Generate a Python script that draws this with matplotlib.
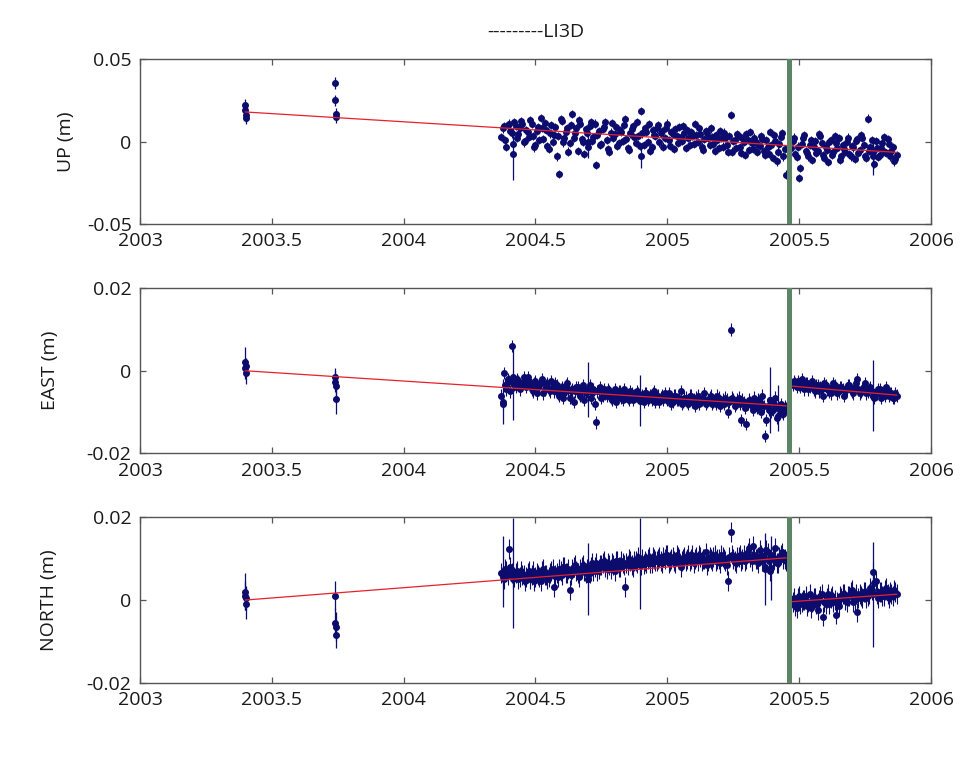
import numpy as np
import matplotlib
matplotlib.use('Agg')
from matplotlib import pyplot as plt

plt.rcParams['font.family'] = ['Open Sans', 'DejaVu Sans']

# epochs of the continuous data (decimal years)
t_pre = [2004.37, 2004.38, 2004.39, 2004.40, 2004.41, 2004.42, 2004.43, 2004.44, 2004.45, 2004.46,
         2004.47, 2004.48, 2004.49, 2004.50, 2004.51, 2004.52, 2004.53, 2004.54, 2004.55, 2004.56,
         2004.57, 2004.58, 2004.59, 2004.60, 2004.61, 2004.62, 2004.63, 2004.64, 2004.65, 2004.66,
         2004.67, 2004.68, 2004.69, 2004.70, 2004.71, 2004.72, 2004.73, 2004.74, 2004.75, 2004.76,
         2004.77, 2004.78, 2004.79, 2004.80, 2004.81, 2004.82, 2004.83, 2004.84, 2004.85, 2004.86,
         2004.87, 2004.88, 2004.89, 2004.90, 2004.91, 2004.92, 2004.93, 2004.94, 2004.95, 2004.96,
         2004.97, 2004.98, 2004.99, 2005.00, 2005.01, 2005.02, 2005.03, 2005.04, 2005.05, 2005.06,
         2005.07, 2005.08, 2005.09, 2005.10, 2005.11, 2005.12, 2005.13, 2005.14, 2005.15, 2005.16,
         2005.17, 2005.18, 2005.19, 2005.20, 2005.21, 2005.22, 2005.23, 2005.24, 2005.25, 2005.26,
         2005.27, 2005.28, 2005.29, 2005.30, 2005.31, 2005.32, 2005.33, 2005.34, 2005.35, 2005.36,
         2005.37, 2005.38, 2005.39, 2005.40, 2005.41, 2005.42, 2005.43, 2005.44, 2005.45]
t_post = [2005.47, 2005.48, 2005.49, 2005.50, 2005.51, 2005.52, 2005.53, 2005.54, 2005.55, 2005.56,
          2005.57, 2005.58, 2005.59, 2005.60, 2005.61, 2005.62, 2005.63, 2005.64, 2005.65, 2005.66,
          2005.67, 2005.68, 2005.69, 2005.70, 2005.71, 2005.72, 2005.73, 2005.74, 2005.75, 2005.76,
          2005.77, 2005.78, 2005.79, 2005.80, 2005.81, 2005.82, 2005.83, 2005.84, 2005.85, 2005.86,
          2005.87]
# in-between epochs
t_pre_b = [2004.375, 2004.385, 2004.395, 2004.405, 2004.415, 2004.425, 2004.435, 2004.445, 2004.455, 2004.465,
           2004.475, 2004.485, 2004.495, 2004.505, 2004.515, 2004.525, 2004.535, 2004.545, 2004.555, 2004.565,
           2004.575, 2004.585, 2004.595, 2004.605, 2004.615, 2004.625, 2004.635, 2004.645, 2004.655, 2004.665,
           2004.675, 2004.685, 2004.695, 2004.705, 2004.715, 2004.725, 2004.735, 2004.745, 2004.755, 2004.765,
           2004.775, 2004.785, 2004.795, 2004.805, 2004.815, 2004.825, 2004.835, 2004.845, 2004.855, 2004.865,
           2004.875, 2004.885, 2004.895, 2004.905, 2004.915, 2004.925, 2004.935, 2004.945, 2004.955, 2004.965,
           2004.975, 2004.985, 2004.995, 2005.005, 2005.015, 2005.025, 2005.035, 2005.045, 2005.055, 2005.065,
           2005.075, 2005.085, 2005.095, 2005.105, 2005.115, 2005.125, 2005.135, 2005.145, 2005.155, 2005.165,
           2005.175, 2005.185, 2005.195, 2005.205, 2005.215, 2005.225, 2005.235, 2005.245, 2005.255, 2005.265,
           2005.275, 2005.285, 2005.295, 2005.305, 2005.315, 2005.325, 2005.335, 2005.345, 2005.355, 2005.365,
           2005.375, 2005.385, 2005.395, 2005.405, 2005.415, 2005.425, 2005.435, 2005.445]
t_post_b = [2005.475, 2005.485, 2005.495, 2005.505, 2005.515, 2005.525, 2005.535, 2005.545, 2005.555, 2005.565,
            2005.575, 2005.585, 2005.595, 2005.605, 2005.615, 2005.625, 2005.635, 2005.645, 2005.655, 2005.665,
            2005.675, 2005.685, 2005.695, 2005.705, 2005.715, 2005.725, 2005.735, 2005.745, 2005.755, 2005.765,
            2005.775, 2005.785, 2005.795, 2005.805, 2005.815, 2005.825, 2005.835, 2005.845, 2005.855, 2005.865]

# early campaign epochs
t_early = [2003.398, 2003.400, 2003.402, 2003.404, 2003.738, 2003.740, 2003.742, 2003.744]

# values in mm
up_pre = [3.0, 9.5, -3.0, 11.0, 5.0, 12.0, 2.0, 8.5, 10.5, 0.5,
          6.0, 13.0, 3.5, -2.0, 9.0, 14.5, 1.5, 7.0, -4.5, 10.0,
          4.0, -9.0, -19.5, 12.5, 2.5, 8.0, -1.0, 17.0, 5.5, -5.5,
          10.5, 0.0, 7.5, -3.5, 12.0, 3.0, -14.0, 6.5, -1.5, 9.0,
          1.0, -6.0, 11.5, 4.5, -2.5, 7.0, 0.5, 13.5, -4.0, 5.0,
          9.5, -1.0, 3.5, 18.5, -2.0, 6.0, 10.5, -3.5, 4.0, 8.0,
          -0.5, 6.5, 2.0, 11.0, -2.5, 4.5, 7.5, -1.0, 3.0, 9.5,
          -4.0, 2.5, 6.0, -1.5, 4.0, 8.5, -3.0, 1.5, 5.5, -2.0,
          3.0, -5.5, 1.0, 6.5, -3.0, 2.0, -6.5, 16.0, 0.5, -4.0,
          3.5, -7.0, 0.0, 4.5, -5.0, -1.0, 2.5, -6.5, -2.5, 1.5,
          -8.0, -3.5, 6.0, -10.0, 0.5, -6.0, 3.0, -9.0, -20.0]
up_post = [-4.0, 2.5, -9.5, -22.0, -1.5, 4.0, -7.0, -2.0, -11.0, 0.5,
           -5.5, 3.5, -8.0, -3.0, -12.5, 1.0, -6.5, -1.0, 2.0, -9.0,
           -4.5, 0.0, -7.5, -2.5, -10.5, 1.5, -5.0, 2.5, -8.5, 14.0,
           -3.5, -6.0, 0.5, -9.5, -4.0, 3.0, -7.0, -1.5, -5.5, -12.0,
           -8.0]
up_pre_b = [8.0, 1.0, 10.0, 6.5, -1.5, 9.5, 4.5, 12.5, -0.5, 7.0,
            3.0, 10.5, -3.5, 6.5, 1.0, 8.5, 11.5, -2.5, 5.0, 0.0,
            9.0, 3.5, 13.5, -0.5, 6.0, -6.0, 10.0, 2.0, 8.5, 13.0,
            1.5, -7.5, 5.5, 9.5, 0.5, 11.0, 4.0, -2.0, 7.5, 12.0,
            -4.5, 5.5, 2.5, 9.0, -1.0, 6.0, 10.0, 1.5, -5.0, 7.5,
            3.0, 12.0, -2.5, 5.0, 8.5, 0.0, -5.5, 7.0, 3.5, 10.0,
            5.0, -3.0, 8.5, 1.0, 6.0, -4.5, 3.5, 9.0, 0.5, 5.5,
            7.0, -2.0, 3.5, 10.5, 0.0, 4.5, -5.0, 6.5, 2.0, 8.0,
            -1.5, 4.0, -4.0, 2.5, 5.5, -2.0, 3.5, -6.0, 1.0, 4.5,
            -3.5, 2.0, -8.0, 1.0, 6.0, -4.5, 0.0, -2.0, 3.5, -5.5,
            1.0, -7.5, -2.0, 4.0, -12.0, -1.5, 5.0, -4.5]
up_post_b = [0.5, -7.5, -3.0, -16.0, 2.0, -5.5, -9.0, 1.0, -3.5, -7.0,
             4.5, -1.0, -10.0, -5.0, 0.0, -8.0, 3.5, -4.0, -11.0, -2.0,
             -6.0, 2.5, -9.0, -3.5, 0.5, -7.0, 4.0, -2.0, -10.0, -5.5,
             1.0, -13.5, -4.0, -8.0, -1.0, -6.5, 1.5, -9.0, -3.5, -10.5]
up_early = [22.0, 19.0, 16.0, 14.5, 35.5, 25.0, 17.0, 15.0]

east_pre = [-6.0, -0.5, -4.5, -2.5, 6.0, -3.5, -2.0, -4.5, -3.0, -2.5,
            -1.5, -3.5, -5.0, -2.5, -4.0, -3.0, -5.5, -3.5, -4.5, -2.5,
            -5.0, -3.5, -6.0, -4.0, -5.5, -3.0, -6.5, -4.5, -5.0, -4.0,
            -6.0, -3.5, -5.5, -4.5, -6.5, -4.5, -12.5, -5.0, -6.5, -4.5,
            -6.0, -5.0, -7.0, -4.5, -6.0, -5.0, -7.0, -5.5, -6.5, -5.0,
            -7.0, -6.0, -5.5, -6.5, -7.5, -5.5, -6.5, -7.0, -5.0, -6.5,
            -7.5, -6.0, -5.5, -7.0, -6.5, -7.5, -6.0, -7.0, -5.0, -7.5,
            -6.5, -8.0, -6.0, -7.0, -6.5, -8.0, -7.0, -5.5, -7.5, -6.5,
            -8.0, -7.0, -6.0, -8.5, -7.0, -6.5, -9.9, 10.0, -7.0, -8.0,
            -6.5, -11.9, -7.5, -12.9, -7.0, -8.5, -6.5, -9.0, -7.5, -6.0,
            -15.8, -8.5, -7.0, -9.5, -6.5, -11.0, -8.0, -10.5, -9.0]
east_post = [-3.0, -2.5, -4.0, -3.5, -2.0, -4.5, -3.0, -4.0, -2.5, -5.0,
             -3.5, -4.0, -6.0, -3.5, -4.5, -5.5, -3.0, -4.5, -5.0, -4.0,
             -6.0, -4.5, -3.5, -5.0, -4.0, -2.0, -5.5, -4.5, -3.0, -5.0,
             -4.0, -6.0, -5.5, -4.5, -6.5, -5.0, -4.0, -6.0, -5.5, -6.5,
             -6.0]
east_pre_b = [-8.0, -3.5, -2.0, -5.0, -1.5, -4.0, -2.5, -3.5, -1.5, -4.0,
              -2.5, -4.5, -3.0, -5.5, -3.5, -2.0, -4.5, -3.0, -5.0, -4.0,
              -3.0, -5.5, -4.5, -6.5, -3.5, -4.5, -5.0, -7.5, -4.0, -5.5,
              -4.5, -7.0, -5.0, -3.5, -5.5, -8.0, -5.0, -4.0, -6.0, -5.5,
              -4.5, -6.5, -5.5, -7.5, -5.0, -6.5, -4.5, -6.0, -7.0, -5.5,
              -6.0, -5.0, -7.0, -6.0, -5.5, -7.0, -6.0, -5.5, -7.5, -6.0,
              -6.5, -7.0, -6.5, -5.5, -8.0, -6.0, -7.0, -6.5, -8.0, -6.5,
              -7.5, -6.0, -7.5, -8.5, -6.0, -7.0, -6.5, -8.0, -7.0, -6.0,
              -7.5, -8.0, -6.5, -7.5, -8.0, -7.0, -7.5, -6.5, -8.5, -7.0,
              -8.0, -7.0, -9.0, -8.0, -7.5, -9.5, -8.0, -7.0, -10.0, -8.5,
              -12.0, -9.5, -10.0, -8.0, -11.5, -9.0, -10.0, -8.5]
east_post_b = [-3.5, -3.0, -2.5, -4.0, -3.5, -3.0, -4.5, -3.5, -4.5, -3.5,
               -5.0, -4.5, -3.0, -4.5, -5.0, -4.0, -3.5, -5.5, -4.0, -4.5,
               -5.0, -3.5, -4.5, -5.5, -3.0, -4.5, -5.0, -4.0, -5.5, -4.5,
               -5.0, -6.5, -5.5, -4.5, -5.5, -6.0, -5.0, -5.5, -6.5, -5.5]
east_early = [2.2, 0.6, -0.6, 1.2, -1.4, -2.6, -3.7, -6.9]

north_pre = [6.5, 5.0, 7.0, 12.4, 6.5, 5.5, 7.0, 5.5, 6.0, 4.5,
             6.5, 5.0, 7.0, 5.5, 6.0, 4.5, 7.5, 6.0, 5.5, 7.0,
             3.1, 6.5, 7.5, 6.0, 8.0, 6.5, 2.4, 7.5, 8.5, 6.5,
             7.5, 8.5, 6.5, 5.0, 8.0, 7.0, 9.0, 7.5, 8.5, 9.5,
             7.5, 8.5, 9.0, 7.0, 9.5, 8.0, 9.0, 3.2, 8.5, 9.5,
             8.0, 9.5, 10.5, 8.5, 8.8, 9.0, 10.5, 9.0, 10.0, 9.5,
             10.5, 9.0, 10.0, 11.0, 9.5, 10.5, 9.0, 10.5, 8.0, 10.0,
             9.5, 11.0, 10.0, 9.0, 10.5, 11.0, 9.5, 10.0, 8.5, 10.5,
             9.5, 11.0, 10.0, 9.0, 10.5, 9.5, 4.7, 16.5, 10.0, 9.0,
             10.5, 9.5, 11.0, 10.0, 12.5, 9.5, 11.0, 10.0, 12.0, 9.5,
             8.0, 11.5, 7.0, 10.5, 12.5, 9.0, 11.0, 10.0, 9.5]
north_post = [-1.0, 0.5, -2.0, 1.0, -0.5, 0.0, -1.5, 1.5, -0.5, 0.5,
              -2.5, 1.0, -4.0, -1.0, 1.5, 0.5, -0.5, -3.5, -1.5, 0.5,
              1.5, -0.5, 1.0, 2.5, 0.0, -3.0, 1.5, 0.5, 2.0, 1.0,
              3.0, 6.9, 4.5, 0.5, 2.0, 1.0, 3.0, 0.5, 1.5, 2.5,
              1.5]
north_pre_b = [5.5, 7.5, 6.0, 8.0, 5.0, 6.5, 5.0, 7.0, 6.0, 5.5,
               7.0, 6.0, 4.5, 6.5, 5.5, 7.0, 6.0, 5.0, 6.5, 7.5,
               6.0, 5.5, 7.0, 8.0, 6.5, 7.5, 6.0, 8.0, 7.0, 5.5,
               8.0, 7.0, 7.5, 6.5, 9.0, 8.0, 7.0, 8.5, 9.0, 8.0,
               9.0, 7.5, 8.5, 9.5, 8.0, 9.5, 8.5, 9.0, 10.0, 8.5,
               9.5, 9.0, 8.5, 10.0, 9.5, 10.0, 9.0, 10.5, 9.5, 10.0,
               9.5, 10.5, 11.0, 9.0, 10.0, 9.5, 11.0, 10.0, 9.5, 10.5,
               10.0, 9.5, 11.0, 10.0, 9.5, 10.5, 10.0, 11.5, 9.5, 10.0,
               10.5, 9.5, 10.0, 11.0, 10.0, 8.5, 10.5, 11.0, 9.5, 10.5,
               11.0, 10.0, 9.5, 11.5, 10.5, 13.0, 10.0, 9.0, 11.0, 10.5,
               12.0, 9.5, 11.0, 10.0, 9.0, 10.5, 11.5, 10.0]
north_post_b = [-0.5, -1.5, 0.5, -1.0, 0.0, 1.0, -0.5, -2.0, 0.5, -1.0,
                0.0, 1.5, -0.5, 0.5, -1.0, 1.0, 0.0, -0.5, 1.0, 1.5,
                0.0, 1.0, 2.0, -0.5, 1.5, 0.5, 1.0, 2.0, 0.5, 1.5,
                2.5, 4.0, 1.5, 2.0, 1.0, 2.5, 1.5, 2.0, 1.0, 2.0]
north_early = [2.0, 1.0, -1.0, 0.5, 1.0, -5.5, -6.5, -8.5]

# formal errors (mm)
up_sig, east_sig, north_sig = 2.5, 1.5, 2.4
up_early_sig = [4.0, 4.0, 4.0, 4.0, 3.5, 3.5, 3.5, 3.5]
east_early_sig = [3.6, 2.5, 2.5, 2.0, 2.0, 2.5, 2.8, 3.5]
north_early_sig = [4.5, 3.5, 3.5, 3.0, 3.5, 3.5, 3.5, 3.0]

# noisy days with large error bars
up_spk_t = [2004.415, 2004.70, 2004.90, 2005.78]
up_spk = [-7.5, 0.0, -9.0, -9.0]
up_spk_sig = [15.5, 10.0, 7.0, 11.0]
east_spk_t = [2004.375, 2004.415, 2004.70, 2004.897, 2005.39, 2005.42, 2005.78]
east_spk = [-7.5, -3.0, -4.5, -7.3, -7.0, -9.0, -6.0]
east_spk_sig = [5.5, 9.0, 6.6, 6.2, 8.0, 5.5, 8.7]
north_spk_t = [2004.375, 2004.415, 2004.70, 2004.897, 2005.37, 2005.395, 2005.78]
north_spk = [6.9, 6.5, 5.0, 8.8, 7.5, 7.8, 1.4]
north_spk_sig = [8.5, 13.3, 8.7, 11.0, 8.7, 7.8, 12.7]

# fitted trends (mm)
up_fit_t = [2003.40, 2005.87]
up_fit = [18.0, -6.5]
east_fit_t = [[2003.40, 2005.45], [2005.47, 2005.87]]
east_fit = [[0.0, -8.5], [-3.7, -5.9]]
north_fit_t = [[2003.40, 2005.45], [2005.47, 2005.87]]
north_fit = [[0.0, 10.2], [-0.4, 1.4]]

event_t = 2005.462
xticks = [2003, 2003.5, 2004, 2004.5, 2005, 2005.5, 2006]
xticklabels = ['2003', '2003.5', '2004', '2004.5', '2005', '2005.5', '2006']

navy = '#0c0c6e'
fig = plt.figure(figsize=(9.6, 7.58), dpi=100)

t_all = t_pre + t_post + t_pre_b + t_post_b
panels = [
    ('UP (m)', up_early, up_pre + up_post + up_pre_b + up_post_b, up_sig, up_early_sig,
     up_spk_t, up_spk, up_spk_sig, [up_fit_t], [up_fit],
     [-0.05, 0, 0.05], ['-0.05', '0', '0.05'], [0.1458, 0.7045, 0.824, 0.2173], -0.082),
    ('EAST (m)', east_early, east_pre + east_post + east_pre_b + east_post_b, east_sig, east_early_sig,
     east_spk_t, east_spk, east_spk_sig, east_fit_t, east_fit,
     [-0.02, 0, 0.02], ['-0.02', '0', '0.02'], [0.1458, 0.4020, 0.824, 0.2177], -0.102),
    ('NORTH (m)', north_early, north_pre + north_post + north_pre_b + north_post_b, north_sig, north_early_sig,
     north_spk_t, north_spk, north_spk_sig, north_fit_t, north_fit,
     [-0.02, 0, 0.02], ['-0.02', '0', '0.02'], [0.1458, 0.0993, 0.824, 0.2182], -0.104),
]

for (lab, early, vals, sig, esig, st, sv, ss, ft, fv, yt, ytl, pos, labx) in panels:
    ax = fig.add_axes(pos)
    ax.errorbar(t_all, np.array(vals) / 1000, yerr=sig / 1000, fmt='o', ms=4, color=navy,
                ecolor=navy, elinewidth=0.8, capsize=0, zorder=2)
    ax.errorbar(st, np.array(sv) / 1000, yerr=np.array(ss) / 1000, fmt='o', ms=4, color=navy,
                ecolor=navy, elinewidth=0.9, capsize=0, zorder=2)
    ax.errorbar(t_early, np.array(early) / 1000, yerr=np.array(esig) / 1000, fmt='o', ms=4,
                color=navy, ecolor=navy, elinewidth=0.9, capsize=0, zorder=2)
    for tt, vv in zip(ft, fv):
        ax.plot(tt, np.array(vv) / 1000, color='#e8202a', lw=0.9, zorder=3)
    ax.axvline(event_t, color='#5e8466', lw=3.6, zorder=4)

    ax.set_xlim(2003, 2006)
    ax.set_ylim(yt[0], yt[-1])
    ax.set_xticks(xticks)
    ax.set_xticklabels(xticklabels)
    ax.set_yticks(yt)
    ax.set_yticklabels(ytl)
    ax.tick_params(direction='in', length=4, width=0.9, top=True, right=True,
                   labelsize=14, colors='#555555', labelcolor='#1a1a1a', pad=6)
    for s in ax.spines.values():
        s.set_color('#555555')
        s.set_linewidth(1.0)
    ax.set_ylabel(lab, fontsize=14, color='#1a1a1a')
    ax.yaxis.set_label_coords(labx, 0.5)

fig.text(0.5578, 0.958, '---------LI3D', ha='center', va='center', fontsize=14, color='#1a1a1a')

fig.savefig('out.png', dpi=100, facecolor='white')
